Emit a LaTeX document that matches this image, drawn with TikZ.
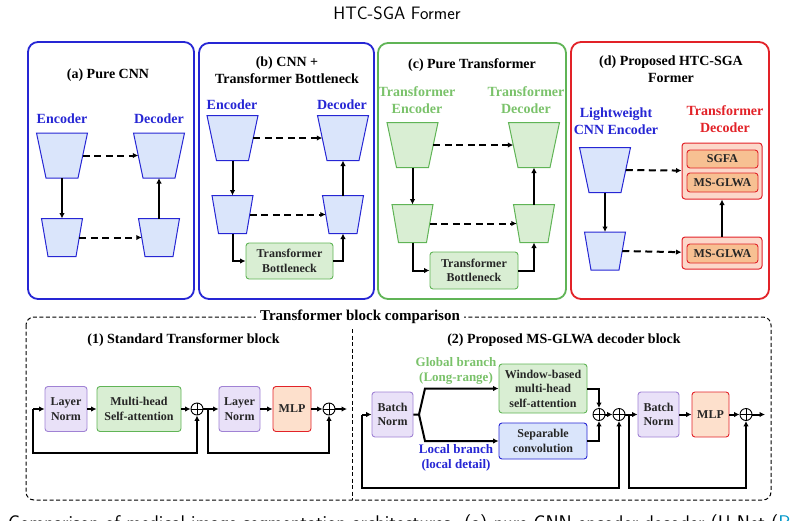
\documentclass[tikz,border=0pt]{standalone}
\usepackage{fontspec}
\setmainfont{Liberation Serif}
\usetikzlibrary{shapes,arrows.meta,positioning,calc}

\definecolor{cnnblue}{RGB}{38,38,212}
\definecolor{cnnfill}{RGB}{218,229,251}
\definecolor{trgreen}{RGB}{96,180,86}
\definecolor{trtext}{RGB}{122,194,106}
\definecolor{trfill}{RGB}{217,238,211}
\definecolor{propred}{RGB}{226,34,40}
\definecolor{propfill}{RGB}{252,216,202}
\definecolor{propinner}{RGB}{247,192,146}
\definecolor{mlpfill}{RGB}{253,224,204}
\definecolor{normline}{RGB}{160,130,212}
\definecolor{normfill}{RGB}{233,225,248}
\definecolor{citecyan}{RGB}{0,150,200}

% trapezoid drawn on an empty box node, narrower at the bottom
\newcommand{\drawtrap}[3]{%
  \filldraw[#1] (#2.north west) -- (#2.north east) -- ([xshift=-#3]#2.south east)
    -- ([xshift=#3]#2.south west) -- cycle;
  \coordinate (#2-r) at ([xshift=-#3/2]#2.east);
  \coordinate (#2-l) at ([xshift=#3/2]#2.west);}

\begin{document}
\begin{tikzpicture}[x=1pt,y=-1pt,
    panel/.style={line width=1.8pt,rounded corners=10pt},
    head/.style={font=\bfseries\fontsize{14}{17}\selectfont,align=center,inner sep=0pt},
    boxtxt/.style={font=\bfseries\fontsize{12}{14.5}\selectfont,align=center,text=black!85},
    tbox/.style={inner sep=0pt,outer sep=0pt},
    big/.style={tbox,minimum width=51pt,minimum height=45pt},
    small/.style={tbox,minimum width=41pt,minimum height=38pt},
    enc/.style={draw=cnnblue,fill=cnnfill,line width=1pt},
    trenc/.style={draw=trgreen,fill=trfill,line width=1pt},
    blk/.style={boxtxt,draw,rounded corners=3pt,line width=0.9pt,inner sep=2pt},
    normb/.style={blk,draw=normline,fill=normfill},
    attb/.style={blk,draw=trgreen,fill=trfill},
    mlpb/.style={blk,draw=propred,fill=mlpfill},
    convb/.style={blk,draw=cnnblue,fill=cnnfill},
    decbox/.style={draw=propred,fill=propfill,rounded corners=3pt,line width=1pt},
    subb/.style={blk,draw=propred,fill=propinner,minimum width=71pt},
    oplus/.style={circle,draw,line width=0.9pt,minimum size=12pt,inner sep=0pt,
      path picture={\draw[line width=0.9pt] (path picture bounding box.north) -- (path picture bounding box.south)
        (path picture bounding box.west) -- (path picture bounding box.east);}},
    arr/.style={line width=2pt,-{Latex[length=5.5pt,width=5.5pt]}},
    dasharr/.style={arr,dash pattern=on 7pt off 4.5pt}]

  \useasboundingbox (0,0) rectangle (790,520);
  \clip (0,0) rectangle (790,520);

  \node[font=\sffamily\fontsize{18}{20}\selectfont,anchor=base] (title) at (397,19.5) {HTC-SGA Former};

  % (a) pure CNN
  \draw[panel,cnnblue] (28,42) rectangle (194,299);
  \node[head,anchor=base] (ta) at (108,78) {(a) Pure CNN};
  \node[head,anchor=base,text=cnnblue] (ela) at (62,123) {Encoder};
  \node[head,anchor=base,text=cnnblue] (dla) at (159,123) {Decoder};
  \node[big] (ea1) at (62,155.5) {};   \drawtrap{enc}{ea1}{9.5pt}
  \node[small] (ea2) at (62,237.5) {}; \drawtrap{enc}{ea2}{6.5pt}
  \node[big] (da1) at (159,155.5) {};  \drawtrap{enc}{da1}{9.5pt}
  \node[small] (da2) at (159,237.5) {};\drawtrap{enc}{da2}{6.5pt}
  \draw[arr] (ea1) -- (ea2);
  \draw[arr] (da2) -- (da1);
  \draw[dasharr] (ea1-r) -- (da1-l);
  \draw[dasharr] (ea2-r) -- (da2-l);

  % (b) CNN + transformer bottleneck
  \draw[panel,cnnblue] (199,43) rectangle (374,299);
  \node[head,anchor=base] (tb) at (287,83) {(b) CNN +\\Transformer Bottleneck};
  \node[head,anchor=base,text=cnnblue] (elb) at (232,109) {Encoder};
  \node[head,anchor=base,text=cnnblue] (dlb) at (342,109) {Decoder};
  \node[big] (eb1) at (232.5,138) {};   \drawtrap{enc}{eb1}{9.5pt}
  \node[small] (eb2) at (232.5,214.5) {}; \drawtrap{enc}{eb2}{6.5pt}
  \node[big] (db1) at (343,138) {};     \drawtrap{enc}{db1}{9.5pt}
  \node[small] (db2) at (343,214.5) {}; \drawtrap{enc}{db2}{6.5pt}
  \node[attb,minimum width=87pt,minimum height=36pt] (bb) at (289.5,261) {Transformer\\Bottleneck};
  \draw[arr] (eb1) -- (eb2);
  \draw[arr] (eb2.south) |- (bb.west);
  \draw[arr] (bb.east) -| (db2.south);
  \draw[arr] (db2) -- (db1);
  \draw[dasharr] (eb1-r) -- (db1-l);
  \draw[dasharr] (eb2-r) -- (db2-l);

  % (c) pure transformer
  \draw[panel,trgreen] (378,43) rectangle (566,299);
  \node[head,anchor=base] (tc) at (472,68) {(c) Pure Transformer};
  \node[head,anchor=base,text=trtext] (elc) at (417,113) {Transformer\\Encoder};
  \node[head,anchor=base,text=trtext] (dlc) at (526,113) {Transformer\\Decoder};
  \node[big] (ec1) at (412.5,145) {};   \drawtrap{trenc}{ec1}{9.5pt}
  \node[small] (ec2) at (412.5,223.5) {}; \drawtrap{trenc}{ec2}{6.5pt}
  \node[big] (dc1) at (534,145) {};     \drawtrap{trenc}{dc1}{9.5pt}
  \node[small] (dc2) at (534,223.5) {}; \drawtrap{trenc}{dc2}{6.5pt}
  \node[attb,minimum width=88pt,minimum height=37pt] (cb) at (474,270.5) {Transformer\\Bottleneck};
  \draw[arr] (ec1) -- (ec2);
  \draw[arr] (ec2.south) |- (cb.west);
  \draw[arr] (cb.east) -| (dc2.south);
  \draw[arr] (dc2) -- (dc1);
  \draw[dasharr] (ec1-r) -- (dc1-l);
  \draw[dasharr] (ec2-r) -- (dc2-l);

  % (d) proposed
  \draw[panel,propred] (571,42) rectangle (769,299);
  \node[head,anchor=base] (td) at (671,82) {(d) Proposed HTC-SGA\\Former};
  \node[head,anchor=base,text=cnnblue] (eld) at (616,134) {Lightweight\\CNN Encoder};
  \node[head,anchor=base,text=propred] (dld) at (725,132) {Transformer\\Decoder};
  \node[big] (ed1) at (605,170) {};   \drawtrap{enc}{ed1}{9.5pt}
  \node[small] (ed2) at (605,251) {}; \drawtrap{enc}{ed2}{6.5pt}
  \node[decbox,minimum width=80pt,minimum height=56pt] (dtop) at (722,171) {};
  \node[subb,minimum height=18pt] (sgfa) at (722.5,159) {SGFA};
  \node[subb,minimum height=19pt] (glwa1) at (722.5,182.5) {MS-GLWA};
  \node[decbox,minimum width=80pt,minimum height=32pt] (dbot) at (722,253) {};
  \node[subb,minimum height=19pt] (glwa2) at (722.5,253.5) {MS-GLWA};
  \draw[arr] (ed1) -- (ed2);
  \draw[arr] (dbot) -- (dtop);
  \draw[dasharr] (ed1-r) -- (dtop);
  \draw[dasharr] (ed2-r) -- (dbot);

  % transformer block comparison
  \draw[line width=1pt,dash pattern=on 4pt off 2.5pt,rounded corners=8pt] (26,317) rectangle (771,500);
  \draw[line width=1pt,dash pattern=on 4pt off 2.5pt] (352,329) -- (352,500);
  \node[head,fill=white,inner xsep=4pt,font=\bfseries\fontsize{15}{17}\selectfont] (tcmp) at (360,317) {Transformer block comparison};
  \node[head,anchor=base] (t1) at (183.5,343) {(1) Standard Transformer block};
  \node[head,anchor=base] (t2) at (564,343) {(2) Proposed MS-GLWA decoder block};

  % (1) standard block
  \coordinate (in1) at (33,409);
  \node[normb,minimum width=42pt,minimum height=45pt] (ln1) at (66,409) {Layer\\Norm};
  \node[attb,minimum width=84pt,minimum height=45pt] (mhsa) at (139,409) {Multi-head\\Self-attention};
  \node[oplus] (op1) at (197,409) {};
  \coordinate (br1) at (208,409);
  \node[normb,minimum width=41pt,minimum height=45pt] (ln2) at (239.5,409) {Layer\\Norm};
  \node[mlpb,minimum width=38pt,minimum height=45pt] (mlp1) at (292,409) {MLP};
  \node[oplus] (op2) at (329,409) {};
  \coordinate (out1) at (347,409);
  \draw[arr] (in1) -- (ln1);
  \draw[arr] (ln1) -- (mhsa);
  \draw[arr] (mhsa) -- (op1);
  \draw[arr] (op1) -- (ln2);
  \draw[arr] (ln2) -- (mlp1);
  \draw[arr] (mlp1) -- (op2);
  \draw[arr] (op2) -- (out1);
  \draw[arr] (in1) -- ++(0,44) -| (op1.south);
  \draw[arr] (br1) -- ++(0,44) -| (op2.south);

  % (2) MS-GLWA block
  \coordinate (in2) at (362,414.5);
  \node[normb,minimum width=41pt,minimum height=45pt] (bn1) at (392.5,414.5) {Batch\\Norm};
  \coordinate (sp) at (419,414.5);
  \node[attb,minimum width=88pt,minimum height=49pt] (wmsa) at (543,388.5) {Window-based\\multi-head\\self-attention};
  \node[convb,minimum width=88pt,minimum height=36pt] (sepc) at (543,441) {Separable\\convolution};
  \node[head,anchor=base,text=trtext,font=\bfseries\fontsize{13}{14.5}\selectfont] (glb) at (456,381) {Global branch\\(Long-range)};
  \node[head,anchor=base,text=cnnblue,font=\bfseries\fontsize{13}{14.5}\selectfont] (lcb) at (456,468) {Local branch\\(local detail)};
  \node[oplus] (opa) at (599,414.5) {};
  \node[oplus] (opb) at (619,414.5) {};
  \coordinate (br2) at (629,414.5);
  \node[normb,minimum width=41pt,minimum height=45pt] (bn2) at (658.5,414.5) {Batch\\Norm};
  \node[mlpb,minimum width=37pt,minimum height=45pt] (mlp2) at (710.5,414.5) {MLP};
  \node[oplus] (opc) at (746,414.5) {};
  \coordinate (out2) at (765,414.5);
  \draw[arr] (in2) -- (bn1);
  \draw[arr] (bn1.east) -- (sp) -- ($(sp |- wmsa.west)+(6,0)$) -- (wmsa.west);
  \draw[arr] (sp) -- ($(sp |- sepc.west)+(6,0)$) -- (sepc.west);
  \draw[arr] (wmsa.east) -| (opa.north);
  \draw[arr] (sepc.east) -| (opa.south);
  \draw[arr] (opa) -- (opb);
  \draw[arr] (opb) -- (bn2);
  \draw[arr] (bn2) -- (mlp2);
  \draw[arr] (mlp2) -- (opc);
  \draw[arr] (opc) -- (out2);
  \draw[arr] (in2) -- ++(0,73.5) -| (opb.south);
  \draw[arr] (br2) -- ++(0,73.5) -| (opc.south);

  \node[anchor=base west,font=\sffamily\fontsize{19.8}{22}\selectfont,inner sep=0pt] (caption) at (8,529)
    {Comparison of medical image segmentation architectures. (a) pure CNN encoder-decoder (U-Net (\textcolor{citecyan}{Ronneberger}};
\end{tikzpicture}
\end{document}
